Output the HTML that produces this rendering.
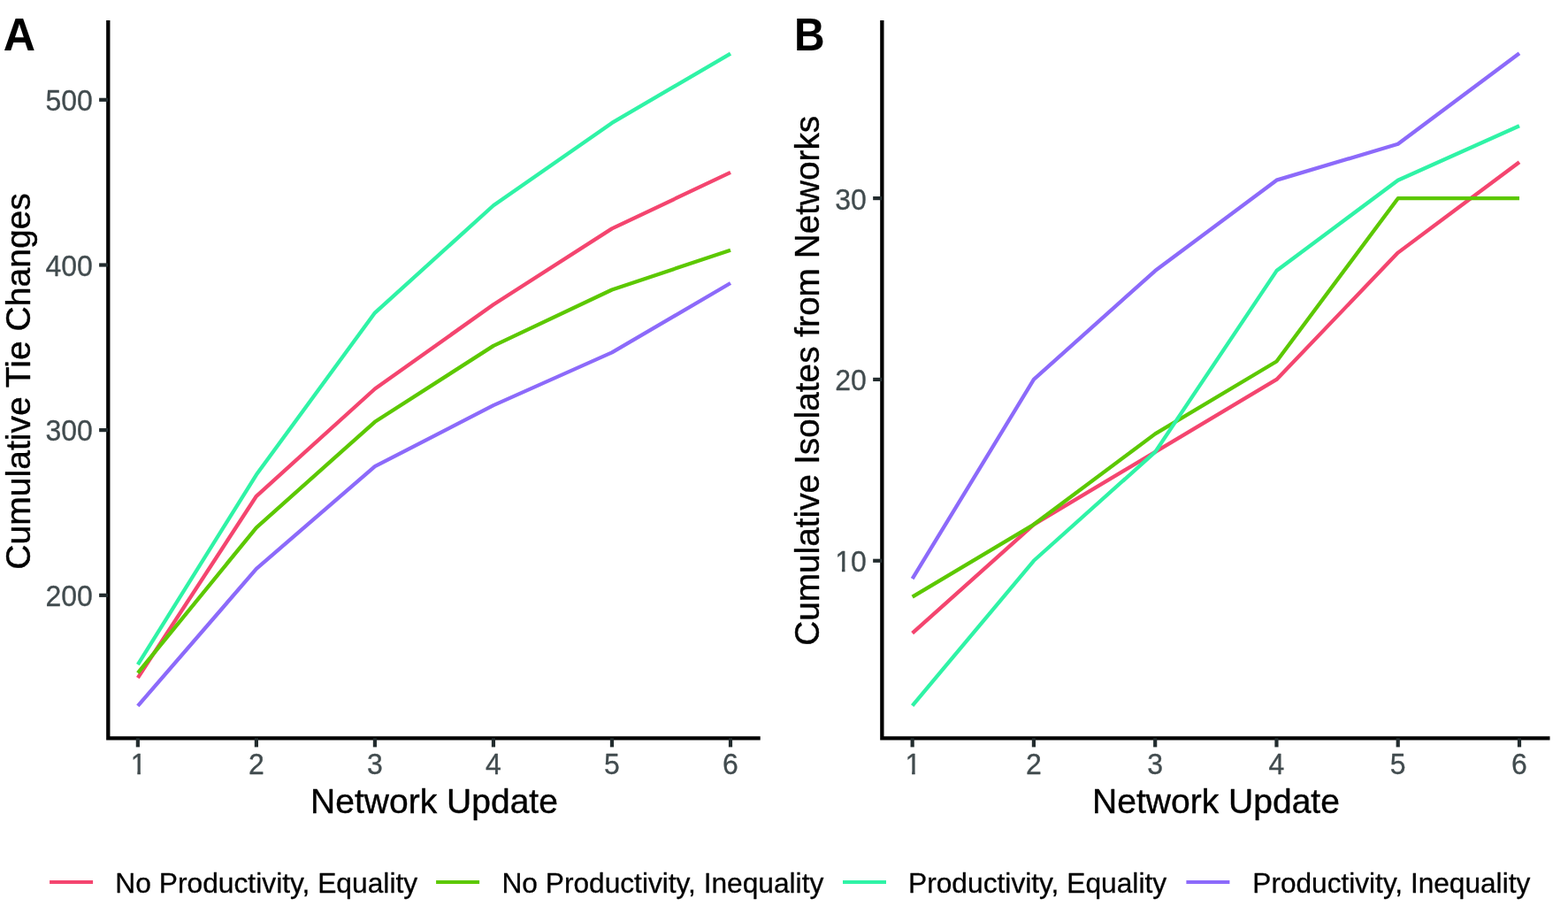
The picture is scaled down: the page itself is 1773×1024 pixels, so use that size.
<!DOCTYPE html>
<html lang="en">
<head>
<meta charset="utf-8">
<title>Figure</title>
<style>
html,body{margin:0;padding:0;background:#fff;}
body{width:1773px;height:1024px;overflow:hidden;}
svg{display:block;font-family:"Liberation Sans", Arial, Helvetica, sans-serif;}
</style>
</head>
<body>
<svg width="1773" height="1024" viewBox="0 0 1773 1024">
<defs>
<clipPath id="c1"><path d="M-14,-32 H14 V-2.75 H2.3 V3 H-1.2 V-2.75 H-14 Z"/></clipPath>
<clipPath id="c10"><path d="M-40,-32 H4 V3 H-18 V-2.75 H-24.4 V3 H-27.9 V-2.75 H-40 Z"/></clipPath>
</defs>
<rect x="0" y="0" width="1773" height="1024" fill="#ffffff"/>
<g id="panelA">
<polyline points="155.85,766.13 289.88,560.80 423.91,439.47 557.94,344.27 691.97,258.40 826.00,194.93" fill="none" stroke="#F4456F" stroke-width="4.3" stroke-linejoin="round" stroke-linecap="butt"/>
<polyline points="155.85,760.53 289.88,596.27 423.91,476.80 557.94,390.93 691.97,327.47 826.00,282.67" fill="none" stroke="#5CC800" stroke-width="4.3" stroke-linejoin="round" stroke-linecap="butt"/>
<polyline points="155.85,751.20 289.88,536.53 423.91,353.60 557.94,232.27 691.97,138.93 826.00,60.53" fill="none" stroke="#2FF3A6" stroke-width="4.3" stroke-linejoin="round" stroke-linecap="butt"/>
<polyline points="155.85,797.87 289.88,642.93 423.91,527.20 557.94,458.13 691.97,398.40 826.00,320.00" fill="none" stroke="#8C6AFA" stroke-width="4.3" stroke-linejoin="round" stroke-linecap="butt"/>
<polyline points="122.3,23 122.3,834.4 859.7,834.4" fill="none" stroke="#000" stroke-width="4.3" stroke-linejoin="miter"/>
<line x1="112.10" y1="112.8" x2="122.30" y2="112.8" stroke="#232C2E" stroke-width="4.2"/>
<text transform="translate(104.90,124.70) scale(1,1.04)" text-anchor="end" font-size="32" fill="#414B4E" stroke="#414B4E" stroke-width="0.3" stroke-linejoin="round">500</text>
<line x1="112.10" y1="299.5" x2="122.30" y2="299.5" stroke="#232C2E" stroke-width="4.2"/>
<text transform="translate(104.90,311.70) scale(1,1.04)" text-anchor="end" font-size="32" fill="#414B4E" stroke="#414B4E" stroke-width="0.3" stroke-linejoin="round">400</text>
<line x1="112.10" y1="486.1" x2="122.30" y2="486.1" stroke="#232C2E" stroke-width="4.2"/>
<text transform="translate(104.90,497.60) scale(1,1.04)" text-anchor="end" font-size="32" fill="#414B4E" stroke="#414B4E" stroke-width="0.3" stroke-linejoin="round">300</text>
<line x1="112.10" y1="672.8" x2="122.30" y2="672.8" stroke="#232C2E" stroke-width="4.2"/>
<text transform="translate(104.90,684.70) scale(1,1.04)" text-anchor="end" font-size="32" fill="#414B4E" stroke="#414B4E" stroke-width="0.3" stroke-linejoin="round">200</text>
<line x1="155.85" y1="834.40" x2="155.85" y2="844.40" stroke="#232C2E" stroke-width="4.2"/>
<text transform="translate(156.55,874.80) scale(1,1.03)" text-anchor="middle" font-size="32" fill="#414B4E" stroke="#414B4E" stroke-width="0.3" stroke-linejoin="round" clip-path="url(#c1)">1</text>
<line x1="289.88" y1="834.40" x2="289.88" y2="844.40" stroke="#232C2E" stroke-width="4.2"/>
<text transform="translate(289.88,874.80) scale(1,1.03)" text-anchor="middle" font-size="32" fill="#414B4E" stroke="#414B4E" stroke-width="0.3" stroke-linejoin="round">2</text>
<line x1="423.91" y1="834.40" x2="423.91" y2="844.40" stroke="#232C2E" stroke-width="4.2"/>
<text transform="translate(423.91,874.80) scale(1,1.03)" text-anchor="middle" font-size="32" fill="#414B4E" stroke="#414B4E" stroke-width="0.3" stroke-linejoin="round">3</text>
<line x1="557.94" y1="834.40" x2="557.94" y2="844.40" stroke="#232C2E" stroke-width="4.2"/>
<text transform="translate(557.94,874.80) scale(1,1.03)" text-anchor="middle" font-size="32" fill="#414B4E" stroke="#414B4E" stroke-width="0.3" stroke-linejoin="round">4</text>
<line x1="691.97" y1="834.40" x2="691.97" y2="844.40" stroke="#232C2E" stroke-width="4.2"/>
<text transform="translate(691.97,874.80) scale(1,1.03)" text-anchor="middle" font-size="32" fill="#414B4E" stroke="#414B4E" stroke-width="0.3" stroke-linejoin="round">5</text>
<line x1="826.00" y1="834.40" x2="826.00" y2="844.40" stroke="#232C2E" stroke-width="4.2"/>
<text transform="translate(826.00,874.80) scale(1,1.03)" text-anchor="middle" font-size="32" fill="#414B4E" stroke="#414B4E" stroke-width="0.3" stroke-linejoin="round">6</text>
<text transform="translate(491.00,918.90) scale(0.993,1)" text-anchor="middle" font-size="39.3" fill="#000" stroke="#000" stroke-width="0.4" stroke-linejoin="round">Network Update</text>
<text transform="translate(33.90,430.90) rotate(-90) scale(0.994,0.995)" text-anchor="middle" font-size="39.3" fill="#000" stroke="#000" stroke-width="0.4" stroke-linejoin="round">Cumulative Tie Changes</text>
<text transform="translate(21.90,57.00) scale(0.985,1)" text-anchor="middle" font-size="51" fill="#000" font-weight="bold">A</text>
</g>
<g id="panelB">
<polyline points="1031.65,715.68 1168.92,592.80 1306.19,510.88 1443.46,428.96 1580.73,285.60 1718.00,183.20" fill="none" stroke="#F4456F" stroke-width="4.3" stroke-linejoin="round" stroke-linecap="butt"/>
<polyline points="1031.65,674.72 1168.92,592.80 1306.19,490.40 1443.46,408.48 1580.73,224.16 1718.00,224.16" fill="none" stroke="#5CC800" stroke-width="4.3" stroke-linejoin="round" stroke-linecap="butt"/>
<polyline points="1031.65,797.60 1168.92,633.76 1306.19,510.88 1443.46,306.08 1580.73,203.68 1718.00,142.24" fill="none" stroke="#2FF3A6" stroke-width="4.3" stroke-linejoin="round" stroke-linecap="butt"/>
<polyline points="1031.65,654.24 1168.92,428.96 1306.19,306.08 1443.46,203.68 1580.73,162.72 1718.00,60.32" fill="none" stroke="#8C6AFA" stroke-width="4.3" stroke-linejoin="round" stroke-linecap="butt"/>
<polyline points="997.35,23 997.35,834.4 1752.5,834.4" fill="none" stroke="#000" stroke-width="4.3" stroke-linejoin="miter"/>
<line x1="987.15" y1="224.1" x2="997.35" y2="224.1" stroke="#232C2E" stroke-width="4.2"/>
<text transform="translate(979.85,236.50) scale(1,1.04)" text-anchor="end" font-size="32" fill="#414B4E" stroke="#414B4E" stroke-width="0.3" stroke-linejoin="round">30</text>
<line x1="987.15" y1="428.9" x2="997.35" y2="428.9" stroke="#232C2E" stroke-width="4.2"/>
<text transform="translate(979.85,440.50) scale(1,1.04)" text-anchor="end" font-size="32" fill="#414B4E" stroke="#414B4E" stroke-width="0.3" stroke-linejoin="round">20</text>
<line x1="987.15" y1="633.76" x2="997.35" y2="633.76" stroke="#232C2E" stroke-width="4.2"/>
<text transform="translate(979.85,645.50) scale(1,1.04)" text-anchor="end" font-size="32" fill="#414B4E" stroke="#414B4E" stroke-width="0.3" stroke-linejoin="round" clip-path="url(#c10)">10</text>
<line x1="1031.65" y1="834.40" x2="1031.65" y2="844.40" stroke="#232C2E" stroke-width="4.2"/>
<text transform="translate(1032.35,874.80) scale(1,1.03)" text-anchor="middle" font-size="32" fill="#414B4E" stroke="#414B4E" stroke-width="0.3" stroke-linejoin="round" clip-path="url(#c1)">1</text>
<line x1="1168.92" y1="834.40" x2="1168.92" y2="844.40" stroke="#232C2E" stroke-width="4.2"/>
<text transform="translate(1168.92,874.80) scale(1,1.03)" text-anchor="middle" font-size="32" fill="#414B4E" stroke="#414B4E" stroke-width="0.3" stroke-linejoin="round">2</text>
<line x1="1306.19" y1="834.40" x2="1306.19" y2="844.40" stroke="#232C2E" stroke-width="4.2"/>
<text transform="translate(1306.19,874.80) scale(1,1.03)" text-anchor="middle" font-size="32" fill="#414B4E" stroke="#414B4E" stroke-width="0.3" stroke-linejoin="round">3</text>
<line x1="1443.46" y1="834.40" x2="1443.46" y2="844.40" stroke="#232C2E" stroke-width="4.2"/>
<text transform="translate(1443.46,874.80) scale(1,1.03)" text-anchor="middle" font-size="32" fill="#414B4E" stroke="#414B4E" stroke-width="0.3" stroke-linejoin="round">4</text>
<line x1="1580.73" y1="834.40" x2="1580.73" y2="844.40" stroke="#232C2E" stroke-width="4.2"/>
<text transform="translate(1580.73,874.80) scale(1,1.03)" text-anchor="middle" font-size="32" fill="#414B4E" stroke="#414B4E" stroke-width="0.3" stroke-linejoin="round">5</text>
<line x1="1718.00" y1="834.40" x2="1718.00" y2="844.40" stroke="#232C2E" stroke-width="4.2"/>
<text transform="translate(1718.00,874.80) scale(1,1.03)" text-anchor="middle" font-size="32" fill="#414B4E" stroke="#414B4E" stroke-width="0.3" stroke-linejoin="round">6</text>
<text transform="translate(1375.00,918.90) scale(0.993,1)" text-anchor="middle" font-size="39.3" fill="#000" stroke="#000" stroke-width="0.4" stroke-linejoin="round">Network Update</text>
<text transform="translate(926.00,430.30) rotate(-90) scale(0.987,0.995)" text-anchor="middle" font-size="39.3" fill="#000" stroke="#000" stroke-width="0.4" stroke-linejoin="round">Cumulative Isolates from Networks</text>
<text transform="translate(915.40,57.00) scale(0.94,1)" text-anchor="middle" font-size="51" fill="#000" font-weight="bold">B</text>
</g>
<g id="legend">
<line x1="56.1" y1="997" x2="105.1" y2="997" stroke="#F4456F" stroke-width="4"/>
<text transform="translate(130.30,1008.60) scale(0.993,1)" text-anchor="start" font-size="32" fill="#000" stroke="#000" stroke-width="0.3" stroke-linejoin="round">No Productivity, Equality</text>
<line x1="493.1" y1="997" x2="542.1" y2="997" stroke="#5CC800" stroke-width="4"/>
<text transform="translate(567.50,1008.60) scale(0.99,1)" text-anchor="start" font-size="32" fill="#000" stroke="#000" stroke-width="0.3" stroke-linejoin="round">No Productivity, Inequality</text>
<line x1="953" y1="997" x2="1002" y2="997" stroke="#2FF3A6" stroke-width="4"/>
<text transform="translate(1027.00,1008.60) scale(0.9916,1)" text-anchor="start" font-size="32" fill="#000" stroke="#000" stroke-width="0.3" stroke-linejoin="round">Productivity, Equality</text>
<line x1="1341.4" y1="997" x2="1390.4" y2="997" stroke="#8C6AFA" stroke-width="4"/>
<text transform="translate(1416.30,1008.60) scale(0.9887,1)" text-anchor="start" font-size="32" fill="#000" stroke="#000" stroke-width="0.3" stroke-linejoin="round">Productivity, Inequality</text>
</g>
</svg>
</body>
</html>
